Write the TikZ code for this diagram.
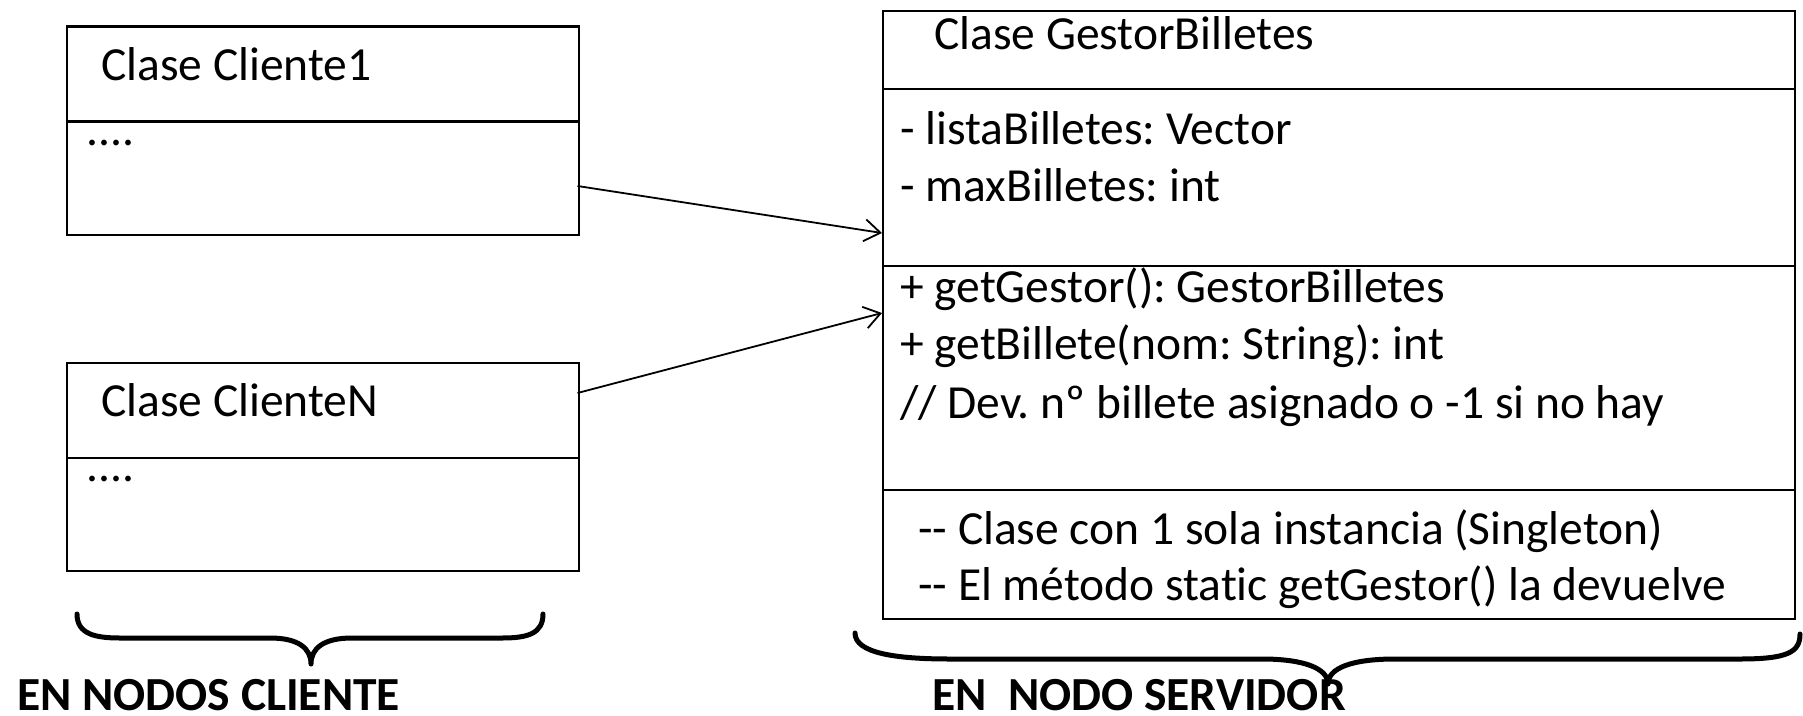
\documentclass[tikz,border=0pt]{standalone}
\usepackage{fontspec}
\setmainfont{Carlito}[Ligatures={NoCommon}]
\usetikzlibrary{arrows.meta}
\frenchspacing
\begin{document}
\begin{tikzpicture}[x=1pt,y=-1pt,
  box/.style={draw=black, line width=2.2pt, rectangle, inner sep=0pt, anchor=north west},
  txt/.style={anchor=base west, inner sep=0pt, font=\fontsize{47.5}{57}\selectfont},
  btxt/.style={anchor=base west, inner sep=0pt, font=\fontsize{47.5}{57}\selectfont\bfseries},
  divline/.style={line width=2.2pt},
  conn/.style={line width=1.8pt, -{Straight Barb[length=16pt,width=22pt,line width=1.8pt]}},
  bracestyle/.style={line width=5pt, line cap=round, line join=round}]
\useasboundingbox (0,0) rectangle (1803,715);
% client boxes
\node[box, minimum width=512pt, minimum height=208.4pt] (c1) at (65.5,25.3) {};
\node[box, minimum width=512pt, minimum height=208pt] (cn) at (65.5,361.7) {};
\draw[divline] (c1.west |- 0,121.5) -- (c1.east |- 0,121.5);
\draw[divline] (cn.west |- 0,457.7) -- (cn.east |- 0,457.7);
\node[txt] (c1t) at (101,80) {Clase Cliente1};
\node[txt] (c1d) at (86,145) {....};
\node[txt] (cnt) at (101,416.5) {Clase ClienteN};
\node[txt] (cnd) at (86,481) {....};
% server box
\node[box, minimum width=912pt, minimum height=607.5pt] (g) at (882,10) {};
\draw[divline] (g.west |- 0,89.3) -- (g.east |- 0,89.3);
\draw[divline] (g.west |- 0,265.7) -- (g.east |- 0,265.7);
\draw[divline] (g.west |- 0,490) -- (g.east |- 0,490);
\node[txt] (gt) at (934,49) {Clase GestorBilletes};
\node[txt] (ga1) at (900,144) {- listaBilletes: Vector};
\node[txt] (ga2) at (900,201) {- maxBilletes: int};
\node[txt] (gm1) at (900,302) {+ getGestor(): GestorBilletes};
\node[txt] (gm2) at (900,359) {+ getBillete(nom: String): int};
\node[txt] (gm3) at (900,418) {// Dev. nº billete asignado o -1 si no hay};
\node[txt] (gn1) at (918,544) {{-}{-} Clase con 1 sola instancia (Singleton)};
\node[txt] (gn2) at (918,600) {{-}{-} El método static getGestor() la devuelve};
% connectors
\coordinate (a1s) at (577.5,186);
\coordinate (a1e) at (882,233);
\coordinate (a2s) at (577.5,393);
\coordinate (a2e) at (882,313);
\draw[conn] (a1s) -- (a1e);
\draw[conn] (a2s) -- (a2e);
% braces
\draw[bracestyle] (77,614) .. controls (77,634) and (95,638) .. (120,638) -- (270,638)
  .. controls (298,638) and (311,648) .. (311,664)
  .. controls (311,648) and (324,638) .. (352,638) -- (502,638)
  .. controls (527,638) and (543,634) .. (543,614);
\draw[bracestyle] (855,633) .. controls (855,653) and (895,659) .. (950,659) -- (1262,659)
  .. controls (1303,659) and (1328,668) .. (1328,684)
  .. controls (1328,668) and (1352,659) .. (1395,659) -- (1740,659)
  .. controls (1788,659) and (1800,652) .. (1800,634);
\node[btxt] (lc) at (17,710) {EN NODOS CLIENTE};
\node[btxt] (ls) at (932,710) {EN\ \ NODO SERVIDOR};
\end{tikzpicture}
\end{document}
